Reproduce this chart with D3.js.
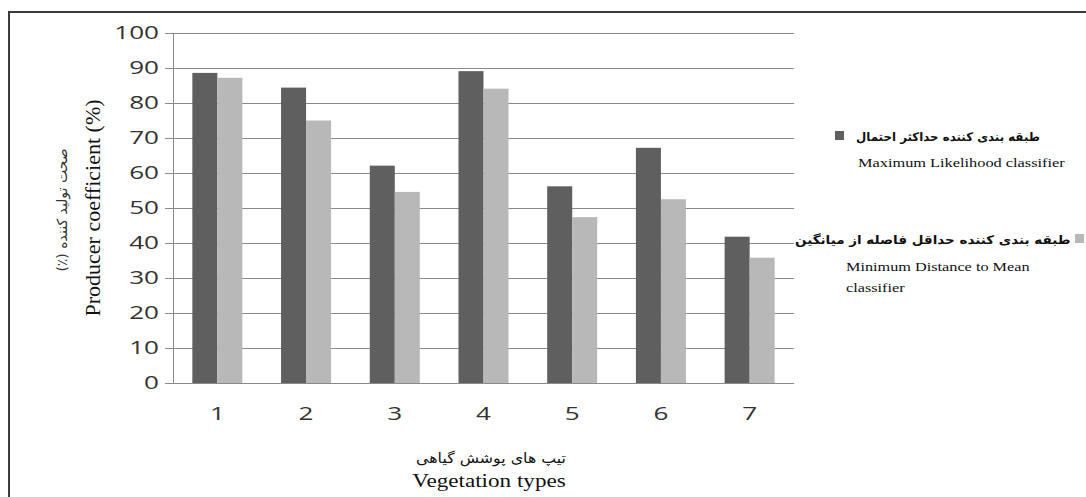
<!DOCTYPE html>
<html>
<head>
<meta charset="utf-8">
<script src="https://cdn.jsdelivr.net/npm/d3@7"></script>
<style>
  html, body { margin: 0; padding: 0; background: #fff; }
  svg { display: block; }
</style>
</head>
<body>
<svg id="chart" width="1086" height="497"></svg>
<script>
// ---- data ----
const categories = ["1", "2", "3", "4", "5", "6", "7"];
const maxLikelihood = [88.6, 84.4, 62.1, 89.1, 56.2, 67.2, 41.8];
const minDistance = [87.2, 75.0, 54.6, 84.1, 47.4, 52.5, 35.8];
const yTicks = [0, 10, 20, 30, 40, 50, 60, 70, 80, 90, 100];
const seriesNames = ["ml", "md"];
const seriesFa = ["طبقه بندی کننده حداکثر احتمال", "طبقه بندی کننده حداقل فاصله از میانگین"];
const seriesEn = [["Maximum Likelihood classifier"], ["Minimum Distance to Mean", "classifier"]];
const xTitleFa = "تیپ های پوشش گیاهی";
const xTitleEn = "Vegetation types";
const yTitleFa = "صحت تولید کننده (٪)";
const yTitleEn = "Producer coefficient (%)";

const colors = { ml: "#5f5f5f", md: "#b8b8b8" };
const SX = 1.25; // horizontal stretch of the original picture's text

const svg = d3.select("#chart");

// helper: place a text and stretch it horizontally to a target width
function fitText(parent, str, opts) {
  const t = parent.append("text").text(str)
    .attr("font-family", opts.family).attr("font-size", opts.size)
    .attr("fill", opts.fill || "#111")
    .attr("text-anchor", opts.anchor || "start");
  if (opts.weight) t.attr("font-weight", opts.weight);
  const w = t.node().getComputedTextLength();
  const s = opts.width ? opts.width / w : (opts.sx || 1);
  t.attr("transform", `translate(${opts.x},${opts.y}) scale(${s},1)`);
  return t;
}

// outer frame (top and left edges visible)
svg.append("path")
  .attr("d", "M9,497 L9,12 L1086,12")
  .attr("fill", "none").attr("stroke", "#3a3a3a").attr("stroke-width", 2);

const plot = { left: 173, right: 794, top: 33, bottom: 383 };

const x = d3.scaleBand().domain(categories)
  .range([plot.left, plot.right]).paddingInner(0.436).paddingOuter(0.218);
const xs = d3.scaleBand().domain(seriesNames).range([0, x.bandwidth()]);
const y = d3.scaleLinear().domain([0, 100]).range([plot.bottom, plot.top]);

// gridlines + y axis labels
const yAxis = d3.axisLeft(y).tickValues(yTicks)
  .tickSize(-(plot.right - plot.left)).tickPadding(14).tickFormat(d3.format("d"));
const gy = svg.append("g").attr("transform", `translate(${plot.left},0)`).call(yAxis);
gy.select(".domain").remove();
gy.selectAll(".tick line").attr("stroke", "#8a8a8a").attr("stroke-width", 1)
  .attr("x1", -8).attr("shape-rendering", "crispEdges");
gy.selectAll(".tick text").attr("font-family", "'Open Sans', sans-serif")
  .attr("font-size", 18).attr("fill", "#333")
  .attr("x", 0).attr("transform", "translate(-14,0) scale(1.45,1)");

// y axis line
svg.append("line").attr("x1", plot.left).attr("x2", plot.left)
  .attr("y1", plot.top).attr("y2", plot.bottom)
  .attr("stroke", "#8a8a8a").attr("shape-rendering", "crispEdges");

// bars
const data = categories.map((c, i) => ({ cat: c, ml: maxLikelihood[i], md: minDistance[i] }));
const groups = svg.append("g").selectAll("g").data(data).join("g")
  .attr("transform", d => `translate(${x(d.cat)},0)`);
groups.selectAll("rect").data(d => seriesNames.map(k => ({ key: k, value: d[k] }))).join("rect")
  .attr("x", d => xs(d.key)).attr("width", xs.bandwidth())
  .attr("y", d => y(d.value)).attr("height", d => y(0) - y(d.value))
  .attr("fill", d => colors[d.key]);

// x axis
const xAxis = d3.axisBottom(x).tickSize(0).tickPadding(24);
const gx = svg.append("g").attr("transform", `translate(0,${plot.bottom})`).call(xAxis);
gx.select(".domain").attr("stroke", "#8a8a8a").attr("d", `M${plot.left - 8},0.5H${plot.right}`);
gx.selectAll(".tick text").attr("font-family", "'Open Sans', sans-serif")
  .attr("font-size", 18).attr("fill", "#333")
  .attr("y", 0).attr("transform", "translate(0,24) scale(1.45,1)");

// axis titles
fitText(svg, xTitleFa, { family: "'DejaVu Sans', sans-serif", size: 14, anchor: "middle",
  x: 491, y: 463, width: 150, fill: "#111" });
fitText(svg, xTitleEn, { family: "'Liberation Serif', serif", size: 18.5, anchor: "middle",
  x: 489, y: 487, sx: SX });

const cy = (plot.top + plot.bottom) / 2;
svg.append("text").attr("transform", `translate(100,${cy}) rotate(-90)`)
  .attr("text-anchor", "middle").attr("font-family", "'Liberation Serif', serif")
  .attr("font-size", 22).attr("fill", "#111").text(yTitleEn);
svg.append("text").attr("transform", `translate(67,${cy + 2}) rotate(-90)`)
  .attr("text-anchor", "middle").attr("font-family", "'DejaVu Sans', sans-serif")
  .attr("direction", "rtl").attr("unicode-bidi", "embed")
  .attr("font-size", 14).attr("fill", "#333").text(yTitleFa);

// legend
const leg = svg.append("g");
// entry 1: square on the left, Persian label to its right
leg.append("rect").attr("x", 835).attr("y", 131).attr("width", 9).attr("height", 9).attr("fill", colors.ml);
fitText(leg, seriesFa[0], { family: "'DejaVu Sans', sans-serif", size: 12, weight: "bold",
  x: 856, y: 141, width: 184 });
fitText(leg, seriesEn[0][0], { family: "'Liberation Serif', serif", size: 13, x: 858, y: 167, width: 207 });
// entry 2: Persian label, square at its right end
leg.append("rect").attr("x", 1075).attr("y", 234).attr("width", 9).attr("height", 9).attr("fill", colors.md);
fitText(leg, seriesFa[1], { family: "'DejaVu Sans', sans-serif", size: 12, weight: "bold",
  x: 795, y: 244, width: 276 });
seriesEn[1].forEach((t, i) => {
  fitText(leg, t, { family: "'Liberation Serif', serif", size: 13, x: 846, y: 271 + i * 21, sx: SX });
});
</script>
</body>
</html>
